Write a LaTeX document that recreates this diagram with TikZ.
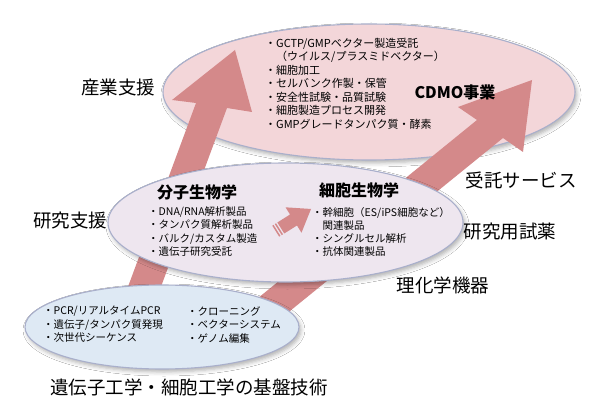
\documentclass[tikz,border=0pt]{standalone}
\usepackage{fontspec}
\setmainfont{Noto Sans CJK JP}
\usetikzlibrary{shadows.blur}

\definecolor{sangyofill}{HTML}{F3D6D9}
\definecolor{kenkyufill}{HTML}{EEE6EF}
\definecolor{kibanfill}{HTML}{DEE9F4}
\definecolor{rimline}{HTML}{A9AFCB}
\definecolor{arrowred}{HTML}{D4898A}

\tikzset{
  sidelabel/.style={font=\fontsize{18.5}{20}\selectfont, inner sep=0pt},
  fieldtitle/.style={font=\fontsize{16}{18}\selectfont\bfseries, inner sep=0pt},
  itemlist/.style={font=\fontsize{10.5}{13.5}\selectfont, align=left, inner sep=0pt, anchor=north west},
  softshadow/.style={blur shadow={shadow xshift=2pt, shadow yshift=-3pt, shadow blur radius=4pt, shadow opacity=30}},
}

\begin{document}
\begin{tikzpicture}[x=1pt, y=-1pt]
  \useasboundingbox (0,0) rectangle (604,411);
  \fill[white] (0,0) rectangle (604,411);

  % 産業支援の楕円
  \filldraw[fill=sangyofill, draw=rimline, line width=1.1pt, softshadow] (369,92) ellipse [x radius=206, y radius=68];

  % 大きな矢印
  \fill[arrowred] (112,330) -- (196,103) -- (172,100) -- (235,50) -- (252,112) -- (227,108) -- (145,330) -- cycle;
  \fill[arrowred] (233.5,318) -- (477,120) -- (458,107) -- (532,80) -- (523,152) -- (503,138) -- (253,341) -- cycle;

  % 研究支援の楕円
  \filldraw[fill=kenkyufill, draw=rimline, line width=1.1pt, softshadow] (285.5,222.5) ellipse [x radius=177.5, y radius=59.5];

  % 基盤技術の楕円
  \filldraw[fill=kibanfill, draw=rimline, line width=1.1pt, softshadow] (162,327) ellipse [x radius=137, y radius=42];

  % 分子生物学 -> 細胞生物学
  \begin{scope}[shift={(293.5,220)}, rotate=32.2]
    \fill[arrowred] (-15,-6.5) -- (0,-6.5) -- (0,-15) -- (20.7,0) -- (0,15) -- (0,6.5) -- (-15,6.5) -- cycle;
    \fill[arrowred] (-18,-6.5) rectangle (-16.5,6.5);
    \fill[arrowred] (-21,-6.5) rectangle (-19.5,6.5);
  \end{scope}

  % 外側のラベル
  \node[sidelabel] (sangyo) at (118,87) {産業支援};
  \node[sidelabel] (kenkyu) at (70,220) {研究支援};
  \node[sidelabel] (jutaku) at (521,180) {受託サービス};
  \node[sidelabel] (shiyaku) at (510,232) {研究用試薬};
  \node[sidelabel] (kiki) at (443,285) {理化学機器};
  \node[sidelabel] (kiban) at (189,387) {遺伝子工学・細胞工学の基盤技術};
  \node[fieldtitle] (cdmo) at (455,92) {CDMO事業};

  % 楕円の中身
  \node[itemlist, font=\fontsize{11}{13.5}\selectfont] (cdmolist) at (265,38) {・GCTP/GMPベクター製造受託\\
    \hspace*{1em}（ウイルス/プラスミドベクター）\\
    ・細胞加工\\
    ・セルバンク作製・保管\\
    ・安全性試験・品質試験\\
    ・細胞製造プロセス開発\\
    ・GMPグレードタンパク質・酵素};

  \node[fieldtitle] (bunshi) at (197,192) {分子生物学};
  \node[itemlist] (bunshilist) at (148,206) {・DNA/RNA解析製品\\
    ・タンパク質解析製品\\
    ・バルク/カスタム製造\\
    ・遺伝子研究受託};

  \node[fieldtitle] (saibo) at (359,190) {細胞生物学};
  \node[itemlist, font=\fontsize{10.5}{13}\selectfont] (saibolist) at (312,207) {・幹細胞（ES/iPS細胞など）\\
    \hspace*{1em}関連製品\\
    ・シングルセル解析\\
    ・抗体関連製品};

  \node[itemlist] (kibanlist) at (43,306) {・PCR/リアルタイムPCR\\
    ・遺伝子/タンパク質発現\\
    ・次世代シーケンス};
  \node[itemlist] (kibanlist2) at (187,306) {・クローニング\\
    ・ベクターシステム\\
    ・ゲノム編集};
\end{tikzpicture}
\end{document}
